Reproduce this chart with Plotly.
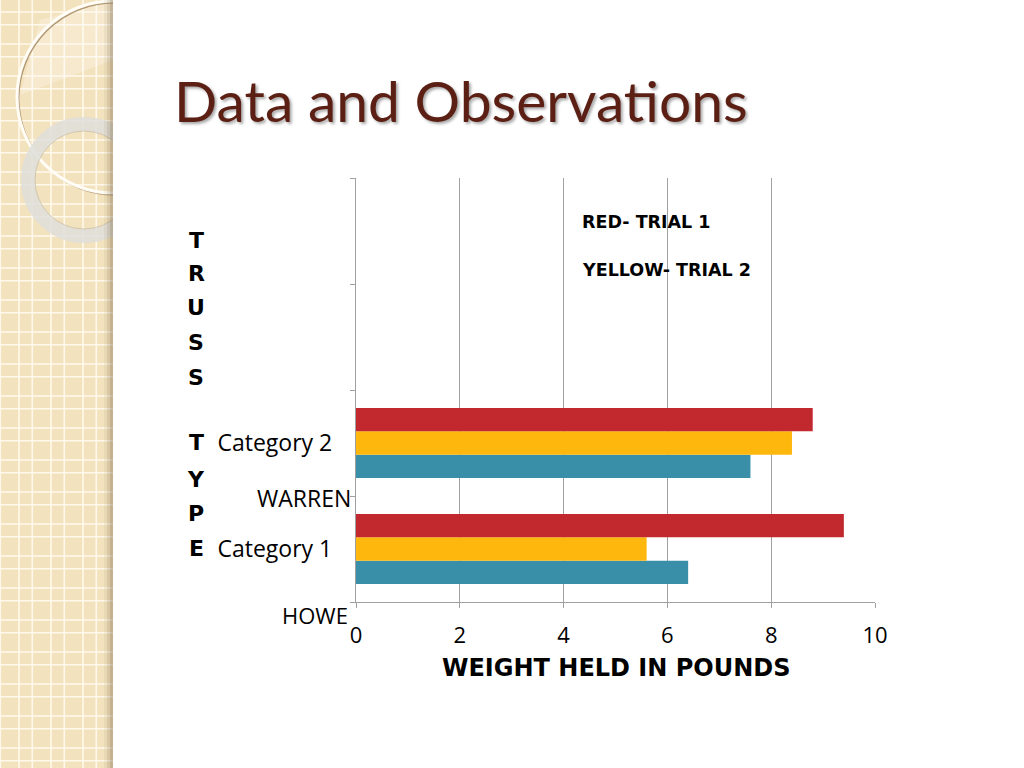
import plotly.graph_objects as go

# ---- data ----
categories = ["Category 1", "Category 2"]
cat_pos = [0, 1]
trial1_red = [9.4, 8.8]
trial2_yellow = [5.6, 8.4]
trial3_blue = [6.4, 7.6]
x_ticks = [0, 2, 4, 6, 8, 10]

# plot area in pixels
L, R, T, B = 356, 875, 178, 602
W, H = R - L, B - T


def px(x):
    return (x - L) / W


def py(y):
    return (B - y) / H


fig = go.Figure()
fig.add_trace(go.Bar(y=cat_pos, x=trial3_blue, orientation="h", name="Trial 3",
                     marker=dict(color="#3A8FA8", line=dict(width=0))))
fig.add_trace(go.Bar(y=cat_pos, x=trial2_yellow, orientation="h", name="Trial 2",
                     marker=dict(color="#FDB70D", line=dict(width=0))))
fig.add_trace(go.Bar(y=cat_pos, x=trial1_red, orientation="h", name="Trial 1",
                     marker=dict(color="#C1292E", line=dict(width=0))))

shapes = []
# left decorative strip
shapes.append(dict(type="rect", xref="paper", yref="paper", x0=px(0), x1=px(113),
                   y0=py(768), y1=py(0), fillcolor="#F3E2BE", line=dict(width=0), layer="below"))
k = -1
while 32 * k < 800:
    for off in (12, 24.7):
        yy = 32 * k + off
        shapes.append(dict(type="line", xref="paper", yref="paper", x0=px(0), x1=px(113),
                           y0=py(yy), y1=py(yy), line=dict(color="#FFF9EC", width=1.6), layer="below"))
    k += 1
for k in range(0, 4):
    for off in (0.3, 19):
        xx = 32 * k + off
        shapes.append(dict(type="line", xref="paper", yref="paper", x0=px(xx), x1=px(xx),
                           y0=py(0), y1=py(768), line=dict(color="#FFF9EC", width=1.6), layer="below"))
# lighter wedge inside big circle
shapes.append(dict(type="path", xref="paper", yref="paper",
                   path=f"M {px(40)} {py(20)} L {px(113)} {py(1)} L {px(113)} {py(60)} L {px(20)} {py(95)} Z",
                   fillcolor="rgba(255,255,255,0.25)", line=dict(width=0), layer="below"))
# big circle outline (with soft shadow)
cx, cy, r = 113, 97, 96
shapes.append(dict(type="circle", xref="paper", yref="paper", x0=px(cx - r + 1.5), x1=px(cx + r + 1.5),
                   y0=py(cy + r + 1.5), y1=py(cy - r + 1.5), line=dict(color="rgba(150,120,80,0.7)", width=2),
                   layer="below"))
shapes.append(dict(type="circle", xref="paper", yref="paper", x0=px(cx - r), x1=px(cx + r),
                   y0=py(cy + r), y1=py(cy - r), line=dict(color="#FFFDF6", width=3), layer="below"))
# ring
cx2, cy2, r2 = 84, 180, 56
shapes.append(dict(type="circle", xref="paper", yref="paper", x0=px(cx2 - r2), x1=px(cx2 + r2),
                   y0=py(cy2 + r2), y1=py(cy2 - r2), line=dict(color="rgba(222,222,218,0.85)", width=14),
                   layer="below"))
shapes.append(dict(type="circle", xref="paper", yref="paper", x0=px(cx2 - 49), x1=px(cx2 + 49),
                   y0=py(cy2 + 49), y1=py(cy2 - 49), line=dict(color="rgba(190,180,160,0.6)", width=1),
                   layer="below"))
# strip edge shadow
for x0, a in [(104, 0.08), (107, 0.14), (110, 0.22)]:
    shapes.append(dict(type="rect", xref="paper", yref="paper", x0=px(x0), x1=px(113),
                       y0=py(768), y1=py(0), fillcolor=f"rgba(120,100,70,{a})", line=dict(width=0),
                       layer="below"))
# white cover to clip circles at strip edge
shapes.append(dict(type="rect", xref="paper", yref="paper", x0=px(113), x1=px(1030),
                   y0=py(780), y1=py(-10), fillcolor="white", line=dict(width=0), layer="below"))

annotations = []
annotations.append(dict(text="Data and Observations", xref="paper", yref="paper", x=px(172), y=py(100),
                        xanchor="left", yanchor="middle", showarrow=False,
                        font=dict(family="Lato", size=57, color="#5B1F14", shadow="2px 2px 3px rgba(0,0,0,0.35)")))
annotations.append(dict(text="<b>RED- TRIAL 1</b>", xref="paper", yref="paper", x=px(580), y=py(222),
                        xanchor="left", yanchor="middle", showarrow=False,
                        font=dict(family="DejaVu Sans", size=17.5, color="black")))
annotations.append(dict(text="<b>YELLOW- TRIAL 2</b>", xref="paper", yref="paper", x=px(580), y=py(270),
                        xanchor="left", yanchor="middle", showarrow=False,
                        font=dict(family="DejaVu Sans", size=17.5, color="black")))
letters = ["T", "R", "U", "S", "S", "T", "Y", "P", "E"]
letter_y = [240, 273, 307, 342, 377, 442, 479, 513, 548]
for ch, yy in zip(letters, letter_y):
    annotations.append(dict(text=f"<b>{ch}</b>", xref="paper", yref="paper", x=px(196), y=py(yy),
                            xanchor="center", yanchor="middle", showarrow=False,
                            font=dict(family="DejaVu Sans", size=22, color="black")))
annotations.append(dict(text="WARREN", xref="paper", yref="paper", x=px(353), y=py(498),
                        xanchor="right", yanchor="middle", showarrow=False,
                        font=dict(family="Open Sans", size=23, color="black")))
annotations.append(dict(text="HOWE", xref="paper", yref="paper", x=px(350), y=py(615),
                        xanchor="right", yanchor="middle", showarrow=False,
                        font=dict(family="Open Sans", size=22, color="black")))
annotations.append(dict(text="<b>WEIGHT HELD IN POUNDS</b>", xref="paper", yref="paper", x=px(616), y=py(668),
                        xanchor="center", yanchor="middle", showarrow=False,
                        font=dict(family="DejaVu Sans", size=24, color="black")))

grid = "#A0A0A0"
fig.update_layout(
    width=1024, height=768,
    margin=dict(l=L, r=1024 - R, t=T, b=768 - B, pad=0),
    paper_bgcolor="white", plot_bgcolor="rgba(0,0,0,0)",
    barmode="group", bargap=0.34, bargroupgap=0,
    showlegend=False,
    shapes=shapes, annotations=annotations,
    xaxis=dict(range=[0, 10], tickvals=x_ticks, showgrid=True, gridcolor=grid, gridwidth=1.3,
               showline=True, linecolor=grid, linewidth=1.3, ticks="outside", ticklen=5, tickcolor=grid,
               tickfont=dict(family="Open Sans", size=22, color="black"), ticklabelstandoff=8,
               zeroline=False, fixedrange=True),
    yaxis=dict(range=[-0.5, 3.5], tickvals=cat_pos, ticktext=categories, ticks="",
               showgrid=False, zeroline=False, showline=True, linecolor=grid, linewidth=1.3,
               tickfont=dict(family="Open Sans", size=23, color="black"), ticklabelstandoff=18,
               minor=dict(tickvals=[-0.5, 0.5, 1.5, 2.5, 3.5], ticks="outside", ticklen=5,
                          tickcolor=grid, showgrid=False),
               fixedrange=True),
)

fig.write_html("out.html", config={"displayModeBar": False},
               post_script="document.body.style.margin='0px';document.body.style.overflow='hidden';")
